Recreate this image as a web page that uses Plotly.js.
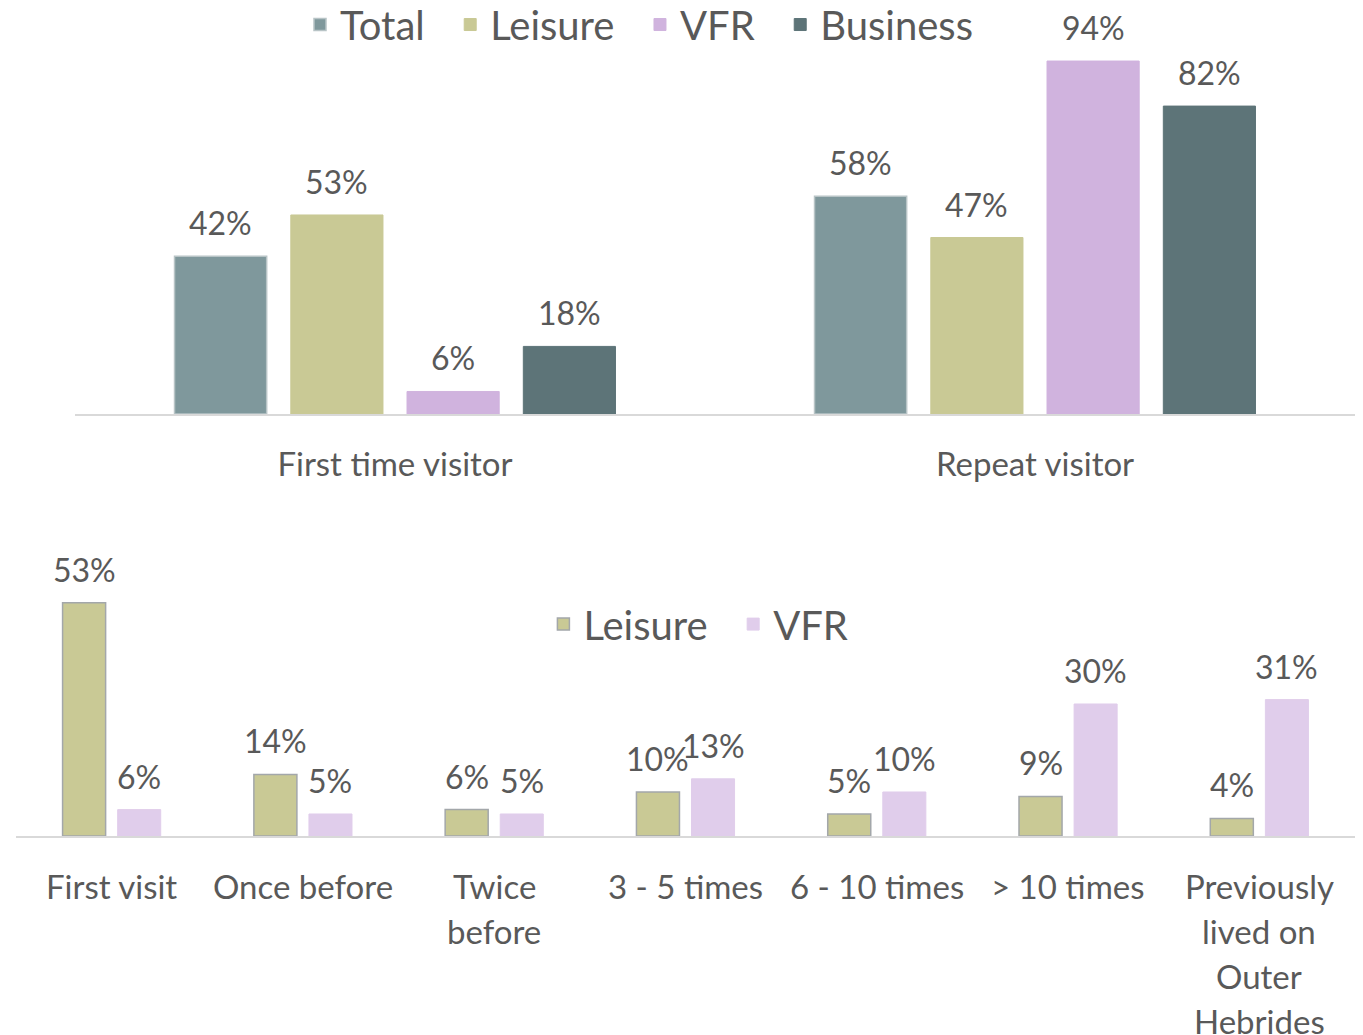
<!DOCTYPE html>
<html>
<head>
<meta charset="utf-8">
<script src="https://cdn.plot.ly/plotly-3.0.1.min.js"></script>
<style>html,body{margin:0;padding:0;background:#fff;}#chart{width:1363px;height:1035px;}</style>
</head>
<body>
<div id="chart"></div>
<script>
// ---- Data ----
const topCategories = ["First time visitor", "Repeat visitor"];
const topSeriesNames = ["Total", "Leisure", "VFR", "Business"];
const topTotal = [42, 58];
const topLeisure = [53, 47];
const topVFR = [6, 94];
const topBusiness = [18, 82];

const bottomCategoryLines = [
  ["First visit"],
  ["Once before"],
  ["Twice", "before"],
  ["3 - 5 times"],
  ["6 - 10 times"],
  ["> 10 times"],
  ["Previously", "lived on", "Outer", "Hebrides"]
];
const bottomCategories = bottomCategoryLines.map(l => l.join(" "));
const bottomSeriesNames = ["Leisure", "VFR"];
const bottomLeisure = [53, 14, 6, 10, 5, 9, 4];
const bottomVFR = [6, 5, 5, 13, 10, 30, 31];

// ---- Style ----
const FONT = "Lato, 'Open Sans', sans-serif";
const TXT = "#595959";
const C_TOTAL = "#7F989C", C_LEIS = "#C9C995", C_VFR = "#D0B3DE", C_BUS = "#5D7478", C_VFR2 = "#E0CDEB";
const LABEL_FONT = {family: FONT, size: 32, color: TXT};
const PAD = "\u00a0\u00a0";

// bar slot geometry (fractions of a category)
const TOP_W = 0.144, TOP_CENTERS = [-0.2725, -0.0908, 0.0908, 0.2725];
const BOT_W = 0.225, BOT_CENTERS = [-0.144, 0.144];

const traces = [];
const annotations = [];

function addSeries(name, legendName, cats, vals, color, lineColor, axes, legend, w, c) {
  traces.push({
    type: "bar", name: legendName, x: cats, y: vals,
    xaxis: axes[0], yaxis: axes[1], legend: legend,
    width: w, offset: c - w / 2,
    marker: {color: color, line: {color: lineColor || color, width: lineColor ? 1.5 : 1}},
    hovertemplate: name + ": %{y}%<extra>%{x}</extra>"
  });
  vals.forEach((v, i) => {
    annotations.push({
      x: i + c, xref: axes[0], y: v, yref: axes[1],
      xanchor: "center", yanchor: "bottom", yshift: 12,
      text: v + "%", showarrow: false, font: LABEL_FONT
    });
  });
}

const topColors = [C_TOTAL, C_LEIS, C_VFR, C_BUS];
const topLines = ["#B8C4C6", null, null, null];
const topVals = [topTotal, topLeisure, topVFR, topBusiness];
topSeriesNames.forEach((n, k) => {
  addSeries(n, k < 3 ? n + PAD : n, topCategories, topVals[k], topColors[k], topLines[k],
            ["x", "y"], "legend", TOP_W, TOP_CENTERS[k]);
});
addSeries("Leisure", "Leisure" + PAD, bottomCategories, bottomLeisure, C_LEIS, "#A3A7AA",
          ["x2", "y2"], "legend2", BOT_W, BOT_CENTERS[0]);
addSeries("VFR", "VFR", bottomCategories, bottomVFR, C_VFR2, null,
          ["x2", "y2"], "legend2", BOT_W, BOT_CENTERS[1]);

// bottom category labels (multi-line, Excel-like line spacing)
bottomCategoryLines.forEach((lines, i) => {
  lines.forEach((ln, j) => {
    annotations.push({
      x: i, xref: "x2", y: 0, yref: "y2",
      yanchor: "middle", xanchor: "center", yshift: -50 - 45 * j,
      text: ln, showarrow: false, font: {family: FONT, size: 33, color: TXT}
    });
  });
});

const layout = {
  width: 1363, height: 1035,
  margin: {l: 0, r: 0, t: 0, b: 0, autoexpand: false},
  paper_bgcolor: "#fff", plot_bgcolor: "rgba(0,0,0,0)",
  font: {family: FONT, color: TXT},
  barmode: "group",
  xaxis: {domain: [75/1363, 1355/1363], anchor: "y", showline: true, linecolor: "#D9D9D9", linewidth: 1.5,
          ticks: "", tickfont: {family: FONT, size: 33, color: TXT}, ticklabelstandoff: 21, showgrid: false,
          automargin: false},
  yaxis: {domain: [0.6, 0.9628], range: [0, 100], visible: false, showgrid: false, zeroline: false},
  xaxis2: {domain: [16/1363, 1355/1363], anchor: "y2", showline: true, linecolor: "#D9D9D9", linewidth: 1.5,
           ticks: "", showticklabels: false, showgrid: false},
  yaxis2: {domain: [0.19227, 0.4686], range: [0, 65], visible: false, showgrid: false, zeroline: false},
  legend: {orientation: "h", x: 300/1363, xanchor: "left", y: 1.0077, yanchor: "top",
           font: {family: FONT, size: 40, color: TXT}, traceorder: "normal"},
  legend2: {orientation: "h", x: 0.5124, xanchor: "center", y: 0.397, yanchor: "middle",
            font: {family: FONT, size: 40, color: TXT}, traceorder: "normal"},
  annotations: annotations
};

Plotly.newPlot("chart", traces, layout, {displayModeBar: false, responsive: false});
</script>
</body>
</html>
